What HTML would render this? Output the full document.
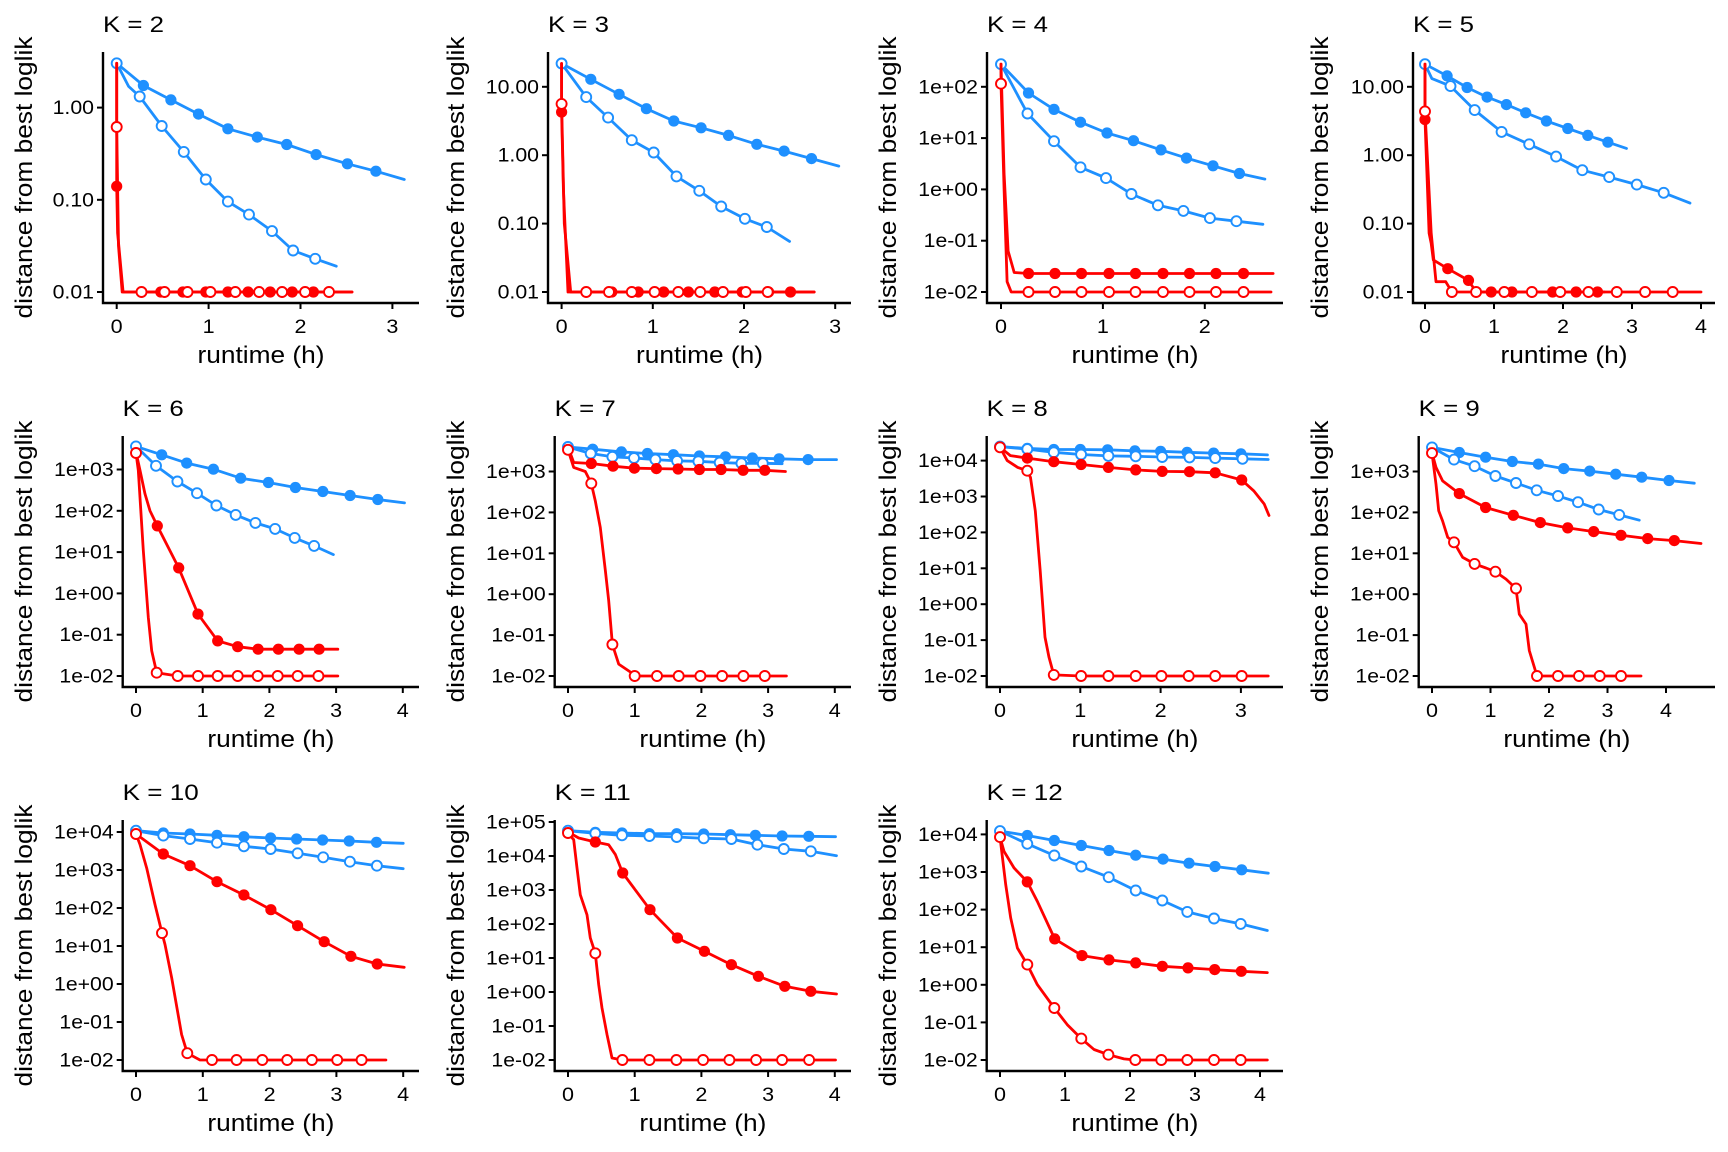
<!DOCTYPE html>
<html><head><meta charset="utf-8"><title>Runtime convergence by K</title>
<style>html,body{margin:0;padding:0;background:#fff}svg{display:block}text{font-family:"Liberation Sans",Arial,sans-serif;fill:#000}</style>
</head><body>
<svg id="chart" xmlns="http://www.w3.org/2000/svg" width="1728" height="1152" viewBox="0 0 1728 1152"></svg>
<script>
// ---- data (time in hours, distance stored as log10) ----
const k2_bf_t=[0,0.29,0.59,0.89,1.21,1.53,1.85,2.17,2.51,2.82,3.13];
const k2_bf_log10=[0.48,0.24,0.084,-0.07,-0.23,-0.32,-0.40,-0.51,-0.61,-0.69,-0.78];
const k2_bf_m=[0,1,1,1,1,1,1,1,1,1,0];
const k2_bo_t=[0,0.13,0.25,0.49,0.73,0.97,1.21,1.44,1.69,1.92,2.16,2.39];
const k2_bo_log10=[0.48,0.23,0.12,-0.20,-0.48,-0.78,-1.02,-1.16,-1.34,-1.55,-1.64,-1.72];
const k2_bo_m=[1,0,1,1,1,1,1,1,1,1,1,0];
const k2_rf_t=[0,0,0.01,0.07,0.48,0.72,0.97,1.21,1.43,1.67,1.91,2.14,2.56];
const k2_rf_log10=[0.48,-0.854,-1.36,-2,-2,-2,-2,-2,-2,-2,-2,-2,-2];
const k2_rf_m=[0,1,0,0,1,1,1,1,1,1,1,1,0];
const k2_ro_t=[0,0,0.02,0.06,0.27,0.52,0.77,1.02,1.29,1.55,1.80,2.05,2.31,2.56];
const k2_ro_log10=[0.48,-0.21,-1.5,-2,-2,-2,-2,-2,-2,-2,-2,-2,-2,-2];
const k2_ro_m=[0,1,0,0,1,1,1,1,1,1,1,1,1,0];

const k3_bf_t=[0,0.32,0.63,0.93,1.23,1.53,1.83,2.14,2.44,2.74,3.04];
const k3_bf_log10=[1.34,1.11,0.89,0.68,0.50,0.40,0.29,0.16,0.06,-0.05,-0.16];
const k3_bf_m=[0,1,1,1,1,1,1,1,1,1,0];
const k3_bo_t=[0,0.27,0.51,0.77,1.01,1.26,1.51,1.75,2.01,2.25,2.50];
const k3_bo_log10=[1.34,0.85,0.55,0.22,0.04,-0.31,-0.52,-0.75,-0.93,-1.05,-1.26];
const k3_bo_m=[1,1,1,1,1,1,1,1,1,1,0];
const k3_rf_t=[0,0,0.02,0.07,0.55,0.84,1.12,1.39,1.68,1.98,2.27,2.51,2.77];
const k3_rf_log10=[1.34,0.63,-0.5,-2,-2,-2,-2,-2,-2,-2,-2,-2,-2];
const k3_rf_m=[0,1,0,0,1,1,1,1,1,1,1,1,0];
const k3_ro_t=[0,0,0.03,0.1,0.27,0.52,0.77,1.02,1.28,1.52,1.77,2.02,2.26,2.77];
const k3_ro_log10=[1.34,0.75,-1,-2,-2,-2,-2,-2,-2,-2,-2,-2,-2,-2];
const k3_ro_m=[0,1,0,0,1,1,1,1,1,1,1,1,1,0];

const k4_bf_t=[0,0.27,0.52,0.78,1.04,1.30,1.57,1.82,2.08,2.34,2.59];
const k4_bf_log10=[2.44,1.88,1.56,1.31,1.10,0.95,0.77,0.61,0.46,0.31,0.20];
const k4_bf_m=[0,1,1,1,1,1,1,1,1,1,0];
const k4_bo_t=[0,0.26,0.52,0.78,1.03,1.28,1.54,1.79,2.05,2.31,2.57];
const k4_bo_log10=[2.44,1.48,0.94,0.43,0.22,-0.09,-0.31,-0.42,-0.56,-0.62,-0.68];
const k4_bo_m=[1,1,1,1,1,1,1,1,1,1,0];
const k4_rf_t=[0,0.03,0.07,0.13,0.27,0.53,0.79,1.06,1.32,1.59,1.85,2.11,2.38,2.67];
const k4_rf_log10=[2.44,0.3,-1.2,-1.62,-1.64,-1.64,-1.64,-1.64,-1.64,-1.64,-1.64,-1.64,-1.64,-1.64];
const k4_rf_m=[0,0,0,0,1,1,1,1,1,1,1,1,1,0];
const k4_ro_t=[0,0,0.03,0.06,0.1,0.27,0.53,0.79,1.06,1.32,1.59,1.85,2.11,2.38,2.65];
const k4_ro_log10=[2.44,2.06,0,-1.8,-2,-2,-2,-2,-2,-2,-2,-2,-2,-2,-2];
const k4_ro_m=[0,1,0,0,0,1,1,1,1,1,1,1,1,1,0];

const k5_bf_t=[0,0.32,0.61,0.90,1.18,1.46,1.76,2.07,2.36,2.65,2.92];
const k5_bf_log10=[1.33,1.16,0.99,0.85,0.74,0.62,0.50,0.39,0.29,0.19,0.10];
const k5_bf_m=[0,1,1,1,1,1,1,1,1,1,0];
const k5_bo_t=[0,0.1,0.37,0.72,1.11,1.51,1.90,2.28,2.67,3.07,3.46,3.84];
const k5_bo_log10=[1.33,1.12,1.01,0.66,0.34,0.16,-0.02,-0.22,-0.32,-0.43,-0.55,-0.70];
const k5_bo_m=[1,0,1,1,1,1,1,1,1,1,1,0];
const k5_rf_t=[0,0,0.06,0.09,0.12,0.33,0.63,0.74,0.96,1.26,1.85,2.19,2.50,2.6];
const k5_rf_log10=[1.33,0.52,-1.14,-1.29,-1.53,-1.66,-1.83,-2,-2,-2,-2,-2,-2,-2];
const k5_rf_m=[0,1,0,0,0,1,1,0,1,1,1,1,1,0];
const k5_ro_t=[0,0,0.09,0.16,0.3,0.39,0.74,1.15,1.55,1.96,2.37,2.78,3.19,3.59,4.0];
const k5_ro_log10=[1.33,0.64,-1.14,-1.85,-1.85,-2,-2,-2,-2,-2,-2,-2,-2,-2,-2];
const k5_ro_m=[0,1,0,0,0,1,1,1,1,1,1,1,1,1,0];

const k6_bf_t=[0,0.385,0.76,1.16,1.57,1.985,2.39,2.80,3.21,3.625,4.025];
const k6_bf_log10=[3.56,3.355,3.154,3.008,2.79,2.685,2.564,2.467,2.37,2.273,2.192];
const k6_bf_m=[0,1,1,1,1,1,1,1,1,1,0];
const k6_bo_t=[0,0.30,0.62,0.915,1.205,1.495,1.79,2.085,2.38,2.67,2.96];
const k6_bo_log10=[3.56,3.089,2.709,2.427,2.128,1.901,1.708,1.562,1.344,1.15,0.94];
const k6_bo_m=[1,1,1,1,1,1,1,1,1,1,0];
const k6_rf_t=[0,0.06,0.135,0.21,0.32,0.64,0.93,1.225,1.525,1.83,2.135,2.445,2.745,3.025];
const k6_rf_log10=[3.42,2.98,2.41,2.0,1.635,0.617,-0.50,-1.15,-1.29,-1.35,-1.35,-1.35,-1.35,-1.35];
const k6_rf_m=[0,0,0,0,1,1,1,1,1,1,1,1,1,0];
const k6_ro_t=[0,0.035,0.11,0.185,0.235,0.31,0.625,0.93,1.225,1.525,1.825,2.125,2.425,2.735,3.025];
const k6_ro_log10=[3.40,2.98,1.04,-0.58,-1.39,-1.92,-2,-2,-2,-2,-2,-2,-2,-2,-2];
const k6_ro_m=[1,0,0,0,0,1,1,1,1,1,1,1,1,1,0];

const k7_bf_t=[0,0.37,0.80,1.19,1.58,1.97,2.36,2.765,3.165,3.60,4.025];
const k7_bf_log10=[3.60,3.546,3.48,3.44,3.41,3.38,3.36,3.33,3.31,3.29,3.29];
const k7_bf_m=[0,1,1,1,1,1,1,1,1,1,0];
const k7_bo_t=[0,0.34,0.665,0.99,1.31,1.635,1.955,2.275,2.60,2.92,3.21];
const k7_bo_log10=[3.60,3.44,3.36,3.33,3.29,3.26,3.25,3.22,3.20,3.20,3.19];
const k7_bo_m=[1,1,1,1,1,1,1,1,1,1,0];
const k7_rf_t=[0,0.085,0.35,0.675,0.995,1.325,1.65,1.97,2.295,2.625,2.95,3.26];
const k7_rf_log10=[3.60,3.22,3.195,3.13,3.08,3.07,3.06,3.05,3.05,3.03,3.03,3.0];
const k7_rf_m=[0,0,1,1,1,1,1,1,1,1,1,0];
const k7_ro_t=[0,0.085,0.26,0.35,0.41,0.485,0.56,0.61,0.665,0.76,0.96,1.0,1.335,1.66,1.985,2.31,2.63,2.95,3.275];
const k7_ro_log10=[3.53,3.10,3.0,2.71,2.28,1.63,0.57,-0.16,-1.23,-1.71,-1.93,-2,-2,-2,-2,-2,-2,-2,-2];
const k7_ro_m=[1,0,0,1,0,0,0,0,1,0,0,1,1,1,1,1,1,1,0];

const k8_bf_t=[0,0.34,0.67,1.0,1.34,1.68,2.0,2.33,2.66,3.0,3.33];
const k8_bf_log10=[4.39,4.34,4.31,4.31,4.30,4.27,4.26,4.23,4.21,4.19,4.16];
const k8_bf_m=[0,1,1,1,1,1,1,1,1,1,0];
const k8_bo_t=[0,0.34,0.67,1.01,1.35,1.69,2.02,2.36,2.68,3.02,3.34];
const k8_bo_log10=[4.39,4.32,4.23,4.17,4.13,4.12,4.10,4.09,4.07,4.05,4.03];
const k8_bo_m=[1,1,1,1,1,1,1,1,1,1,0];
const k8_rf_t=[0,0.13,0.34,0.67,1.01,1.35,1.69,2.02,2.36,2.68,3.01,3.16,3.29,3.35];
const k8_rf_log10=[4.37,4.14,4.07,3.97,3.89,3.81,3.74,3.70,3.69,3.66,3.46,3.16,2.79,2.47];
const k8_rf_m=[0,0,1,1,1,1,1,1,1,1,1,0,0,0];
const k8_ro_t=[0,0.09,0.22,0.34,0.38,0.44,0.5,0.56,0.61,0.67,1.01,1.35,1.69,2.01,2.35,2.68,3.01,3.34];
const k8_ro_log10=[4.37,4.0,3.81,3.72,3.53,2.6,0.93,-0.92,-1.48,-1.97,-2,-2,-2,-2,-2,-2,-2,-2];
const k8_ro_m=[1,0,0,1,0,0,0,0,0,1,1,1,1,1,1,1,1,0];

const k9_bf_t=[0,0.467,0.917,1.373,1.818,2.251,2.695,3.14,3.584,4.051,4.484];
const k9_bf_log10=[3.59,3.464,3.35,3.244,3.18,3.07,3.01,2.935,2.86,2.78,2.715];
const k9_bf_m=[0,1,1,1,1,1,1,1,1,1,0];
const k9_bo_t=[0,0.376,0.729,1.083,1.436,1.789,2.154,2.496,2.849,3.2,3.544];
const k9_bo_log10=[3.59,3.29,3.13,2.89,2.72,2.54,2.40,2.25,2.07,1.94,1.81];
const k9_bo_m=[1,1,1,1,1,1,1,1,1,1,0];
const k9_rf_t=[0,0.068,0.182,0.467,0.917,1.39,1.852,2.319,2.764,3.231,3.687,4.142,4.598];
const k9_rf_log10=[3.46,3.10,2.77,2.46,2.12,1.93,1.75,1.62,1.53,1.44,1.36,1.31,1.24];
const k9_rf_m=[0,0,0,1,1,1,1,1,1,1,1,1,0];
const k9_ro_t=[0,0.068,0.114,0.182,0.268,0.376,0.524,0.729,0.923,1.083,1.265,1.436,1.493,1.607,1.664,1.795,2.154,2.513,2.866,3.231,3.573];
const k9_ro_log10=[3.45,2.69,2.04,1.79,1.39,1.27,0.90,0.74,0.64,0.55,0.37,0.14,-0.49,-0.73,-1.38,-2,-2,-2,-2,-2,-2];
const k9_ro_m=[1,0,0,0,0,1,0,1,0,1,0,1,0,0,0,1,1,1,1,1,0];

const k10_bf_t=[0,0.409,0.808,1.212,1.616,2.015,2.404,2.793,3.192,3.601,4.0];
const k10_bf_log10=[4.035,3.974,3.947,3.912,3.877,3.842,3.816,3.789,3.763,3.728,3.702];
const k10_bf_m=[0,1,1,1,1,1,1,1,1,1,0];
const k10_bo_t=[0,0.409,0.808,1.212,1.616,2.015,2.419,2.803,3.202,3.606,4.0];
const k10_bo_log10=[4.035,3.904,3.816,3.719,3.623,3.553,3.439,3.333,3.219,3.114,3.035];
const k10_bo_m=[1,1,1,1,1,1,1,1,1,1,0];
const k10_rf_t=[0,0.409,0.808,1.212,1.616,2.02,2.419,2.818,3.217,3.611,4.015];
const k10_rf_log10=[3.947,3.421,3.114,2.693,2.342,1.956,1.535,1.114,0.728,0.526,0.439];
const k10_rf_m=[0,1,1,1,1,1,1,1,1,1,0];
const k10_ro_t=[0,0.06,0.16,0.284,0.389,0.434,0.534,0.683,0.768,0.958,1.137,1.506,1.89,2.264,2.633,3.012,3.377,3.741];
const k10_ro_log10=[3.947,3.67,3.05,2.09,1.34,1.04,0.16,-1.33,-1.82,-2,-2,-2,-2,-2,-2,-2,-2,-2];
const k10_ro_m=[1,0,0,0,1,0,0,0,1,0,1,1,1,1,1,1,1,0];

const k11_bf_t=[0,0.41,0.81,1.22,1.63,2.035,2.435,2.81,3.21,3.61,4.01];
const k11_bf_log10=[4.745,4.696,4.676,4.657,4.657,4.647,4.627,4.608,4.588,4.578,4.569];
const k11_bf_m=[0,1,1,1,1,1,1,1,1,1,0];
const k11_bo_t=[0,0.41,0.81,1.22,1.63,2.035,2.45,2.84,3.235,3.64,4.025];
const k11_bo_log10=[4.745,4.667,4.608,4.588,4.559,4.520,4.500,4.333,4.206,4.137,4.010];
const k11_bo_m=[1,1,1,1,1,1,1,1,1,1,0];
const k11_rf_t=[0,0.16,0.41,0.61,0.71,0.82,1.23,1.64,2.045,2.45,2.855,3.25,3.64,4.025];
const k11_rf_log10=[4.706,4.53,4.412,4.33,4.04,3.5,2.42,1.588,1.196,0.804,0.461,0.167,0.02,-0.059];
const k11_rf_m=[0,0,1,0,0,1,1,1,1,1,1,1,1,0];
const k11_ro_t=[0,0.085,0.135,0.185,0.285,0.335,0.41,0.46,0.51,0.585,0.66,0.815,1.22,1.625,2.025,2.42,2.82,3.21,3.615,4.01];
const k11_ro_log10=[4.676,4.48,3.65,2.86,2.27,1.59,1.137,0.216,-0.47,-1.25,-1.94,-2,-2,-2,-2,-2,-2,-2,-2,-2];
const k11_ro_m=[1,0,0,0,0,0,1,0,0,0,0,1,1,1,1,1,1,1,1,0];

const k12_bf_t=[0,0.42,0.836,1.251,1.677,2.087,2.508,2.908,3.308,3.718,4.128];
const k12_bf_log10=[4.087,3.972,3.838,3.705,3.572,3.448,3.342,3.235,3.146,3.058,2.969];
const k12_bf_m=[0,1,1,1,1,1,1,1,1,1,0];
const k12_bo_t=[0,0.42,0.836,1.251,1.672,2.087,2.497,2.882,3.292,3.703,4.113];
const k12_bo_log10=[4.087,3.75,3.439,3.146,2.862,2.507,2.241,1.94,1.762,1.62,1.443];
const k12_bo_m=[1,1,1,1,1,1,1,1,1,1,0];
const k12_rf_t=[0,0.062,0.215,0.42,0.574,0.841,1.262,1.677,2.087,2.497,2.892,3.303,3.713,4.113];
const k12_rf_log10=[3.927,3.55,3.11,2.738,2.22,1.22,0.777,0.662,0.582,0.493,0.449,0.405,0.36,0.325];
const k12_rf_m=[0,0,0,1,0,1,1,1,1,1,1,1,1,0];
const k12_ro_t=[0,0.087,0.164,0.267,0.42,0.574,0.836,1.036,1.251,1.446,1.667,1.908,2.082,2.482,2.882,3.292,3.703,4.113];
const k12_ro_log10=[3.927,2.667,1.78,0.98,0.538,0.005,-0.616,-1.06,-1.432,-1.72,-1.86,-1.97,-2,-2,-2,-2,-2,-2];
const k12_ro_m=[1,0,0,0,1,0,1,0,1,0,1,0,1,1,1,1,1,0];

// tick label arrays
const decimalLabels3=["0.01","0.10","1.00"];
const decimalLabels4=["0.01","0.10","1.00","10.00"];
const sciLabels3=["1e-02","1e-01","1e+00","1e+01","1e+02","1e+03"];
const sciLabels4=["1e-02","1e-01","1e+00","1e+01","1e+02","1e+03","1e+04"];
const sciLabels5=["1e-02","1e-01","1e+00","1e+01","1e+02","1e+03","1e+04","1e+05"];
const sciLabels2=["1e-02","1e-01","1e+00","1e+01","1e+02"];
const panelK=[2,3,4,5,6,7,8,9,10,11,12];
const panelXMaxTick=[3,3,2,4,4,4,3,4,4,4,4];

// layout (local pixel geometry per panel, not data)
const layout=[
 {col:0,row:0,axL:103,x0:116.7,ppH:91.9,ppd:92.2,labels:decimalLabels3},
 {col:1,row:0,axL:116,x0:129.6,ppH:91.2,ppd:68.4,labels:decimalLabels4},
 {col:2,row:0,axL:123,x0:137,ppH:101.9,ppd:51.3,labels:sciLabels2},
 {col:3,row:0,axL:117,x0:129,ppH:69,ppd:68.4,labels:decimalLabels4},
 {col:0,row:1,axL:122.7,x0:136,ppH:66.7,ppd:41.3,labels:sciLabels3},
 {col:1,row:1,axL:122.7,x0:136,ppH:66.7,ppd:40.9,labels:sciLabels3},
 {col:2,row:1,axL:122.7,x0:136,ppH:80.3,ppd:35.9,labels:sciLabels4},
 {col:3,row:1,axL:122.7,x0:136,ppH:58.5,ppd:40.9,labels:sciLabels3},
 {col:0,row:2,axL:122.7,x0:136,ppH:66.8,ppd:38.0,labels:sciLabels4},
 {col:1,row:2,axL:122.7,x0:136,ppH:66.7,ppd:34.0,labels:sciLabels5},
 {col:2,row:2,axL:122.7,x0:136,ppH:65.0,ppd:37.6,labels:sciLabels4}
];
const series={
 2:[[k2_bf_t,k2_bf_log10,k2_bf_m],[k2_bo_t,k2_bo_log10,k2_bo_m],[k2_rf_t,k2_rf_log10,k2_rf_m],[k2_ro_t,k2_ro_log10,k2_ro_m]],
 3:[[k3_bf_t,k3_bf_log10,k3_bf_m],[k3_bo_t,k3_bo_log10,k3_bo_m],[k3_rf_t,k3_rf_log10,k3_rf_m],[k3_ro_t,k3_ro_log10,k3_ro_m]],
 4:[[k4_bf_t,k4_bf_log10,k4_bf_m],[k4_bo_t,k4_bo_log10,k4_bo_m],[k4_rf_t,k4_rf_log10,k4_rf_m],[k4_ro_t,k4_ro_log10,k4_ro_m]],
 5:[[k5_bf_t,k5_bf_log10,k5_bf_m],[k5_bo_t,k5_bo_log10,k5_bo_m],[k5_rf_t,k5_rf_log10,k5_rf_m],[k5_ro_t,k5_ro_log10,k5_ro_m]],
 6:[[k6_bf_t,k6_bf_log10,k6_bf_m],[k6_bo_t,k6_bo_log10,k6_bo_m],[k6_rf_t,k6_rf_log10,k6_rf_m],[k6_ro_t,k6_ro_log10,k6_ro_m]],
 7:[[k7_bf_t,k7_bf_log10,k7_bf_m],[k7_bo_t,k7_bo_log10,k7_bo_m],[k7_rf_t,k7_rf_log10,k7_rf_m],[k7_ro_t,k7_ro_log10,k7_ro_m]],
 8:[[k8_bf_t,k8_bf_log10,k8_bf_m],[k8_bo_t,k8_bo_log10,k8_bo_m],[k8_rf_t,k8_rf_log10,k8_rf_m],[k8_ro_t,k8_ro_log10,k8_ro_m]],
 9:[[k9_bf_t,k9_bf_log10,k9_bf_m],[k9_bo_t,k9_bo_log10,k9_bo_m],[k9_rf_t,k9_rf_log10,k9_rf_m],[k9_ro_t,k9_ro_log10,k9_ro_m]],
 10:[[k10_bf_t,k10_bf_log10,k10_bf_m],[k10_bo_t,k10_bo_log10,k10_bo_m],[k10_rf_t,k10_rf_log10,k10_rf_m],[k10_ro_t,k10_ro_log10,k10_ro_m]],
 11:[[k11_bf_t,k11_bf_log10,k11_bf_m],[k11_bo_t,k11_bo_log10,k11_bo_m],[k11_rf_t,k11_rf_log10,k11_rf_m],[k11_ro_t,k11_ro_log10,k11_ro_m]],
 12:[[k12_bf_t,k12_bf_log10,k12_bf_m],[k12_bo_t,k12_bo_log10,k12_bo_m],[k12_rf_t,k12_rf_log10,k12_rf_m],[k12_ro_t,k12_ro_log10,k12_ro_m]]
};
const seriesStyle=[
 {name:'blue-filled',color:'#1E90FF',filled:true},
 {name:'blue-open',color:'#1E90FF',filled:false},
 {name:'red-filled',color:'#FF0000',filled:true},
 {name:'red-open',color:'#FF0000',filled:false}
];

const NS='http://www.w3.org/2000/svg';
const svg=document.getElementById('chart');
function mk(tag,attrs,parent){const e=document.createElementNS(NS,tag);for(const k in attrs)e.setAttribute(k,attrs[k]);parent.appendChild(e);return e;}
function charW(c){if(c==='.')return .278;if(c==='+')return .584;if(c==='-')return .333;return .556;}
function labelWidth(s){let w=0;for(const c of s)w+=charW(c);return w*17*1.25;}

panelK.forEach((k,i)=>{
  const L=layout[i];
  const ox=L.col*432, oy=L.row*384;
  const g=mk('g',{transform:`translate(${ox},${oy})`},svg);
  
  
  const xs=t=>L.x0+t*L.ppH;
  const ys=lg=>292-(lg+2)*L.ppd;
  const title=mk('text',{x:L.axL,y:32,'font-size':22,textLength:(k>=10?76:61),lengthAdjust:'spacingAndGlyphs'},g);
  title.textContent='K = '+k;
  
  
  const ax=mk('path',{d:`M${L.axL},52 V303 H419`,fill:'none',stroke:'#000','stroke-width':2.4},g);
  
  
  L.labels.forEach((lab,j)=>{
    const y=ys(j-2);
    mk('line',{x1:L.axL-6,x2:L.axL,y1:y,y2:y,stroke:'#000','stroke-width':2},g);
    const tx=mk('text',{x:L.axL-9,y:y+6.5,'font-size':19,'text-anchor':'end',textLength:labelWidth(lab).toFixed(1),lengthAdjust:'spacingAndGlyphs'},g);
    tx.textContent=lab;
    
    
  });
  for(let v=0;v<=panelXMaxTick[i];v++){
    const x=xs(v);
    mk('line',{x1:x,x2:x,y1:303,y2:309,stroke:'#000','stroke-width':2},g);
    const tx=mk('text',{x:x,y:333,'font-size':19,'text-anchor':'middle',textLength:12,lengthAdjust:'spacingAndGlyphs'},g);
    tx.textContent=String(v);
    
    
  }
  const xt=mk('text',{x:(L.axL+419)/2,y:363,'font-size':24,'text-anchor':'middle',textLength:127,lengthAdjust:'spacingAndGlyphs'},g);
  xt.textContent='runtime (h)';
  
  
  const yt=mk('text',{x:0,y:0,'font-size':24,'text-anchor':'middle',textLength:282,lengthAdjust:'spacingAndGlyphs',transform:'translate(32,177.5) rotate(-90)'},g);
  yt.textContent='distance from best loglik';
  
  
  series[k].forEach((s,si)=>{
    const st=seriesStyle[si];
    const [T,V,M]=s;
    const sg=mk('g',{},g);
    
    
    const d=T.map((t,j)=>(j?'L':'M')+xs(t).toFixed(1)+','+ys(V[j]).toFixed(1)).join(' ');
    const p=mk('path',{d:d,fill:'none',stroke:st.color,'stroke-width':2.8,'stroke-linejoin':'round','stroke-linecap':'round'},sg);
    
    
    T.forEach((t,j)=>{
      if(!M[j])return;
      const c=mk('circle',{cx:xs(t).toFixed(1),cy:ys(V[j]).toFixed(1),r:st.filled?5.6:5.0,fill:st.filled?st.color:'#fff',stroke:st.color,'stroke-width':st.filled?0:1.9},sg);
      
      
    });
  });
});
</script>
</body></html>
